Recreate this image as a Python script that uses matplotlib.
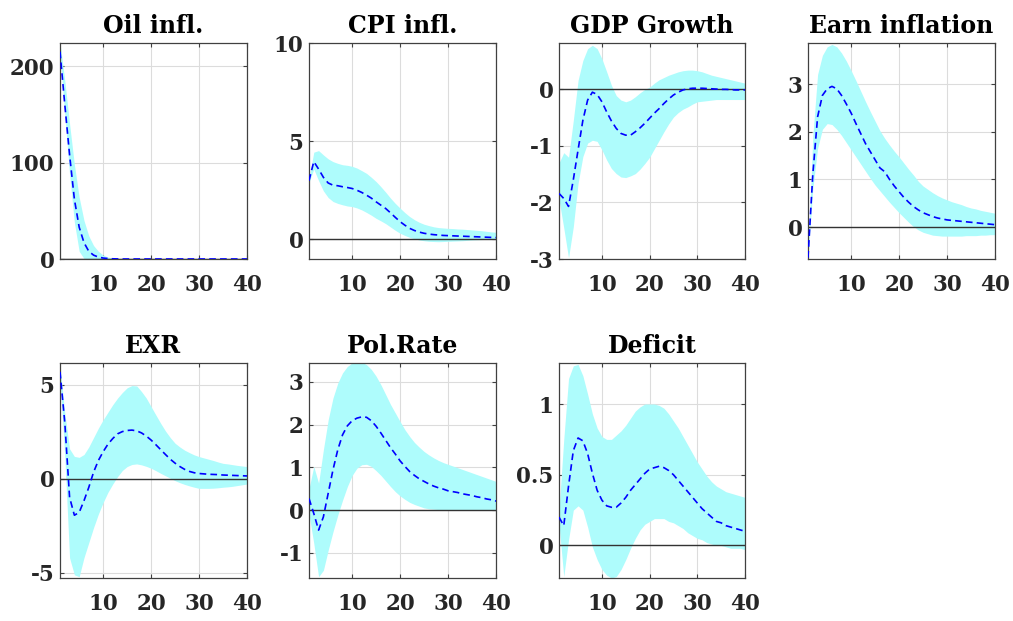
import matplotlib
matplotlib.use('Agg')
import matplotlib.pyplot as plt
import numpy as np

plt.rcParams['font.family'] = ['DejaVu Serif']
plt.rcParams['font.weight'] = 'bold'
plt.rcParams['axes.unicode_minus'] = False   # plain hyphen minus, as in the figure

# horizon
t = np.arange(1, 41)

titles = ['Oil infl.', 'CPI infl.', 'GDP Growth', 'Earn inflation', 'EXR', 'Pol.Rate', 'Deficit']

# === IRF medians and bands === #
oil_mean = [215, 160, 108, 62, 33, 17, 8, 4, 2, 1, 0.5, 0.2, 0.1] + [0] * 27
oil_up = [224, 185, 140, 98, 64, 40, 24, 14, 8, 4, 2, 1, 0.5, 0.2, 0.1] + [0] * 25
oil_lo = [212, 150, 88, 38, 8, 0.5] + [0] * 34

cpi_mean = [2.99, 3.96, 3.58, 3.16, 2.87, 2.76, 2.73, 2.68, 2.64, 2.59,
            2.5, 2.39, 2.25, 2.1, 1.91, 1.74, 1.57, 1.35, 1.12, 0.9,
            0.72, 0.56, 0.45, 0.37, 0.31, 0.27, 0.24, 0.22, 0.2, 0.19,
            0.18, 0.17, 0.16, 0.15, 0.14, 0.13, 0.12, 0.11, 0.1, 0.09]
cpi_up = [3.1, 4.44, 4.52, 4.3, 4.1, 3.96, 3.87, 3.8, 3.77, 3.72,
          3.63, 3.5, 3.36, 3.16, 2.94, 2.68, 2.4, 2.1, 1.83, 1.59,
          1.36, 1.16, 1.0, 0.87, 0.77, 0.7, 0.64, 0.6, 0.58, 0.56,
          0.55, 0.53, 0.52, 0.5, 0.48, 0.46, 0.44, 0.41, 0.38, 0.36]
cpi_lo = [2.9, 3.58, 2.99, 2.47, 2.13, 1.93, 1.83, 1.76, 1.7, 1.67,
          1.6, 1.5, 1.37, 1.23, 1.07, 0.94, 0.8, 0.63, 0.46, 0.31,
          0.2, 0.1, 0.03, -0.03, -0.07, -0.1, -0.11, -0.12, -0.11, -0.1,
          -0.09, -0.08, -0.07, -0.05, -0.03, -0.02, -0.01, 0.0, 0.0, 0.0]

gdp_mean = [-1.84, -1.93, -2.07, -1.6, -1.07, -0.55, -0.19, -0.05, -0.09, -0.22,
            -0.4, -0.56, -0.69, -0.78, -0.81, -0.81, -0.75, -0.68, -0.6, -0.51,
            -0.42, -0.34, -0.25, -0.17, -0.1, -0.05, -0.01, 0.01, 0.02, 0.02,
            0.02, 0.015, 0.01, 0.005, 0.0, 0.0, -0.005, -0.01, -0.01, -0.01]
gdp_up = [-1.3, -1.12, -1.2, -0.55, 0.16, 0.51, 0.72, 0.78, 0.72, 0.54,
          0.31, 0.07, -0.11, -0.19, -0.22, -0.19, -0.13, -0.06, 0.0, 0.04,
          0.11, 0.17, 0.21, 0.25, 0.28, 0.31, 0.33, 0.34, 0.34, 0.33,
          0.31, 0.28, 0.25, 0.23, 0.21, 0.19, 0.17, 0.15, 0.13, 0.11]
gdp_lo = [-1.95, -2.45, -2.98, -2.43, -1.66, -1.19, -0.95, -0.9, -0.92, -1.07,
          -1.25, -1.4, -1.49, -1.55, -1.56, -1.53, -1.49, -1.41, -1.31, -1.2,
          -1.05, -0.9, -0.75, -0.61, -0.49, -0.41, -0.35, -0.31, -0.26, -0.22,
          -0.21, -0.2, -0.19, -0.18, -0.18, -0.18, -0.18, -0.18, -0.18, -0.18]

earn_mean = [-0.64, 1.1, 2.31, 2.76, 2.9, 2.95, 2.9, 2.76, 2.58, 2.39,
             2.17, 1.96, 1.75, 1.58, 1.41, 1.24, 1.16, 1.0, 0.86, 0.74,
             0.62, 0.52, 0.43, 0.36, 0.3, 0.26, 0.22, 0.19, 0.17, 0.15,
             0.14, 0.13, 0.12, 0.11, 0.1, 0.09, 0.08, 0.07, 0.06, 0.05]
earn_up = [-0.64, 1.9, 3.2, 3.6, 3.78, 3.83, 3.78, 3.65, 3.48, 3.28,
           3.07, 2.85, 2.63, 2.42, 2.22, 2.02, 1.86, 1.72, 1.59, 1.47,
           1.34, 1.21, 1.09, 0.96, 0.86, 0.79, 0.72, 0.66, 0.61, 0.57,
           0.53, 0.5, 0.47, 0.43, 0.4, 0.38, 0.35, 0.33, 0.31, 0.29]
earn_lo = [-0.64, 0.8, 1.65, 2.05, 2.17, 2.15, 2.05, 1.92, 1.77, 1.62,
           1.47, 1.32, 1.17, 1.02, 0.88, 0.76, 0.64, 0.52, 0.41, 0.3,
           0.2, 0.1, 0.01, -0.06, -0.11, -0.14, -0.17, -0.18, -0.19, -0.19,
           -0.19, -0.19, -0.19, -0.18, -0.18, -0.18, -0.17, -0.17, -0.16, -0.16]

exr_mean = [5.7, 3.0, -0.98, -1.93, -1.78, -1.16, -0.45, 0.36, 0.98, 1.45,
            1.85, 2.15, 2.4, 2.52, 2.58, 2.6, 2.56, 2.45, 2.28, 2.07,
            1.82, 1.56, 1.3, 1.05, 0.84, 0.66, 0.51, 0.4, 0.33, 0.29,
            0.27, 0.25, 0.24, 0.23, 0.21, 0.2, 0.19, 0.18, 0.17, 0.16]
exr_up = [6.0, 3.5, 1.6, 1.2, 1.15, 1.3, 1.7, 2.2, 2.7, 3.15,
          3.55, 3.95, 4.3, 4.6, 4.85, 4.97, 4.95, 4.65, 4.3, 3.85,
          3.4, 2.96, 2.55, 2.2, 1.9, 1.7, 1.53, 1.4, 1.28, 1.19,
          1.12, 1.05, 0.98, 0.9, 0.83, 0.8, 0.76, 0.72, 0.69, 0.66]
exr_lo = [5.4, 1.2, -4.2, -5.1, -5.2, -4.19, -3.39, -2.59, -1.87, -1.25,
          -0.71, -0.27, 0.12, 0.45, 0.66, 0.77, 0.8, 0.75, 0.67, 0.57,
          0.44, 0.3, 0.17, 0.04, -0.09, -0.2, -0.29, -0.37, -0.44, -0.5,
          -0.5, -0.5, -0.49, -0.47, -0.44, -0.42, -0.39, -0.35, -0.31, -0.27]

pol_mean = [0.27, -0.08, -0.47, -0.16, 0.39, 0.94, 1.41, 1.76, 1.97, 2.09,
            2.15, 2.18, 2.17, 2.09, 1.96, 1.8, 1.63, 1.46, 1.31, 1.15,
            1.02, 0.9, 0.81, 0.73, 0.67, 0.61, 0.56, 0.52, 0.49, 0.45,
            0.43, 0.41, 0.38, 0.36, 0.34, 0.31, 0.29, 0.26, 0.24, 0.21]
pol_up = [0.5, 1.02, 0.63, 1.41, 2.11, 2.62, 2.97, 3.21, 3.36, 3.44,
          3.46, 3.46, 3.4, 3.29, 3.13, 2.93, 2.7, 2.47, 2.27, 2.07,
          1.88, 1.72, 1.58, 1.47, 1.37, 1.29, 1.22, 1.16, 1.11, 1.07,
          1.03, 0.99, 0.95, 0.91, 0.87, 0.83, 0.79, 0.75, 0.71, 0.67]
pol_lo = [-0.1, -0.78, -1.56, -1.41, -0.94, -0.51, -0.12, 0.23, 0.55, 0.81,
          0.98, 1.06, 1.07, 1.02, 0.92, 0.81, 0.68, 0.55, 0.43, 0.33,
          0.25, 0.18, 0.13, 0.09, 0.05, 0.03, 0.02, 0.01, 0.0, 0.0,
          0.0, 0.0, -0.01, -0.01, -0.01, -0.01, -0.01, -0.01, -0.01, -0.01]

def_mean = [0.2, 0.14, 0.42, 0.67, 0.76, 0.74, 0.65, 0.51, 0.39, 0.32,
            0.28, 0.27, 0.27, 0.3, 0.34, 0.39, 0.43, 0.47, 0.51, 0.54,
            0.55, 0.56, 0.55, 0.53, 0.5, 0.46, 0.42, 0.38, 0.34, 0.3,
            0.26, 0.23, 0.2, 0.17, 0.16, 0.14, 0.13, 0.12, 0.11, 0.1]
def_up = [0.25, 0.75, 1.18, 1.27, 1.28, 1.2, 1.07, 0.93, 0.83, 0.77,
          0.75, 0.75, 0.78, 0.81, 0.85, 0.9, 0.95, 0.98, 1.0, 1.0,
          1.0, 0.99, 0.97, 0.93, 0.88, 0.83, 0.77, 0.71, 0.65, 0.59,
          0.54, 0.49, 0.45, 0.42, 0.4, 0.38, 0.37, 0.36, 0.35, 0.34]
def_lo = [0.15, -0.22, 0.04, 0.25, 0.28, 0.25, 0.13, -0.01, -0.1, -0.17,
          -0.21, -0.23, -0.22, -0.17, -0.1, -0.02, 0.05, 0.11, 0.15, 0.17,
          0.19, 0.19, 0.19, 0.17, 0.16, 0.14, 0.12, 0.09, 0.07, 0.05,
          0.04, 0.02, 0.01, 0.0, 0.0, -0.01, -0.02, -0.02, -0.02, -0.03]

means = [oil_mean, cpi_mean, gdp_mean, earn_mean, exr_mean, pol_mean, def_mean]
uppers = [oil_up, cpi_up, gdp_up, earn_up, exr_up, pol_up, def_up]
lowers = [oil_lo, cpi_lo, gdp_lo, earn_lo, exr_lo, pol_lo, def_lo]

ylims = [(0, 224), (-1, 10), (-3, 0.82), (-0.67, 3.86), (-5.27, 6.17), (-1.59, 3.44), (-0.23, 1.29)]
yticks = [[0, 100, 200], [0, 5, 10], [-3, -2, -1, 0], [0, 1, 2, 3],
          [-5, 0, 5], [-1, 0, 1, 2, 3], [0, 0.5, 1]]
yticklabels = [None, None, None, None, None, None, ['0', '0.5', '1']]

# axes boxes in pixels (left, top, right, bottom)
W, H = 1013, 621
lefts = [60, 309, 559, 808]
rights = [247, 496, 745, 995]
tops = [43, 363]
bottoms = [259, 578]

fig = plt.figure(figsize=(W / 100, H / 100), dpi=100)

for k in range(7):
    r, c = divmod(k, 4)
    ax = fig.add_axes([lefts[c] / W, 1 - bottoms[r] / H,
                       (rights[c] - lefts[c]) / W, (bottoms[r] - tops[r]) / H])
    ax.fill_between(t, lowers[k], uppers[k], color='#aefcfc', linewidth=0, zorder=1)
    ax.axhline(0, color='#333333', linewidth=1.0, zorder=2)
    ax.plot(t, means[k], '--', color='#0000ff', linewidth=1.2, dashes=(4, 2.5), zorder=3)
    ax.set_xlim(1, 40)
    ax.set_ylim(*ylims[k])
    ax.set_xticks([10, 20, 30, 40])
    ax.set_yticks(yticks[k])
    if yticklabels[k] is not None:
        ax.set_yticklabels(yticklabels[k])
    ax.grid(True, color='#dcdcdc', linewidth=0.8, zorder=0)
    ax.set_axisbelow(True)
    ax.tick_params(direction='in', top=True, right=True, length=3, width=0.8,
                   color='#404040', labelcolor='#262626', labelsize=15.5)
    ax.tick_params(axis='x', pad=11)
    ax.tick_params(axis='y', pad=4)
    for lab in ax.get_xticklabels() + ax.get_yticklabels():
        lab.set_fontweight('bold')
    for sp in ax.spines.values():
        sp.set_color('#404040')
        sp.set_linewidth(0.9)
    ax.set_title(titles[k], fontsize=17, fontweight='bold', pad=7)

fig.savefig('out.png', dpi=100)
